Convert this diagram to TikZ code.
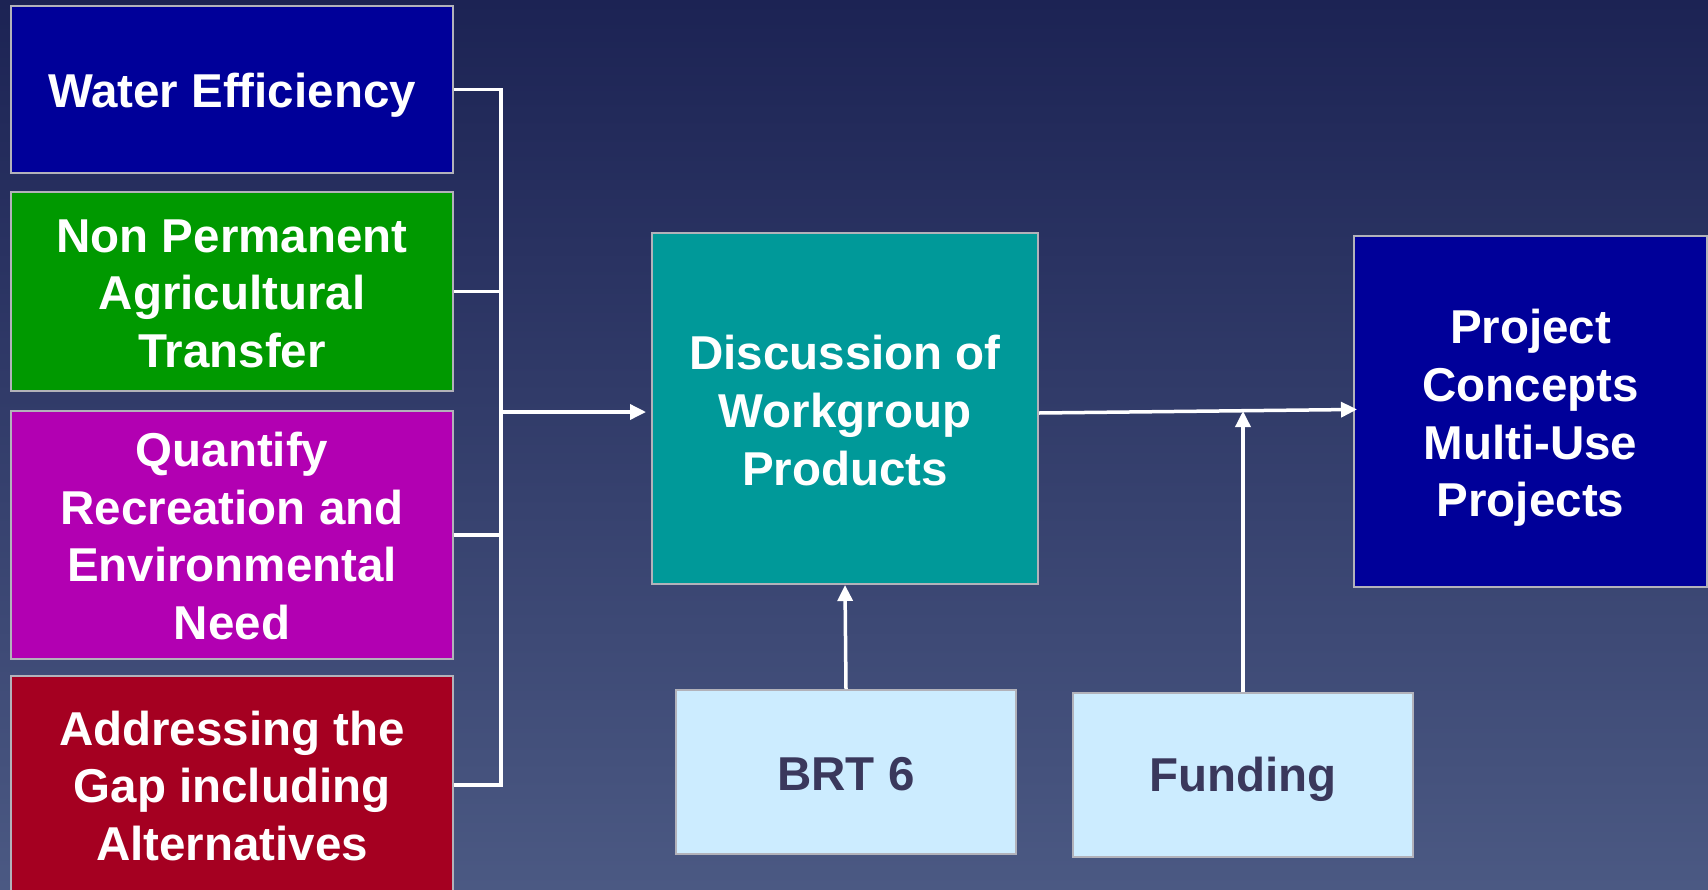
\documentclass[tikz,border=0pt]{standalone}
\usepackage{fontspec}
\setmainfont{Liberation Sans}
\usetikzlibrary{arrows.meta}

\definecolor{bgtop}{RGB}{28,35,84}
\definecolor{bgbot}{RGB}{75,89,131}
\definecolor{boxedge}{RGB}{178,178,186}
\definecolor{navybox}{RGB}{0,0,153}
\definecolor{greenbox}{RGB}{0,153,0}
\definecolor{purplebox}{RGB}{178,0,178}
\definecolor{redbox}{RGB}{165,0,33}
\definecolor{tealbox}{RGB}{0,153,153}
\definecolor{palebox}{RGB}{204,236,255}
\definecolor{paletext}{RGB}{58,56,92}

\begin{document}
\begin{tikzpicture}[x=0.5pt,y=-0.5pt,
  box/.style={draw=boxedge, line width=1pt, align=center, inner sep=0pt,
    font=\bfseries\fontsize{23.75}{28.8}\selectfont, text=white},
  wire/.style={draw=white, line width=1.75pt},
  arr/.style={wire, -{Triangle[length=8pt,width=7.5pt]}}]

  % background
  \useasboundingbox (0,0) rectangle (1708,889);
  \shade[top color=bgtop, bottom color=bgbot] (0,0) rectangle (1708,889);
  \clip (0,0) rectangle (1708,889);

  % left column of topics: frames first, then their texts
  \node[box, fill=navybox, minimum width=221pt, minimum height=83.5pt]
    (we) at (232,89.5) {};
  \node[box, fill=greenbox, minimum width=221pt, minimum height=99.5pt]
    (np) at (232,291.5) {};
  \node[box, fill=purplebox, minimum width=221pt, minimum height=124pt]
    (qr) at (232,535) {};
  \node[box, fill=redbox, minimum width=221pt, minimum height=109pt]
    (ag) at (232,785) {};
  \node[box, draw=none] (weT) at ([yshift=-3pt]we.center) {Water Efficiency};
  \node[box, draw=none] (npT) at ([yshift=-1pt]np.center) {Non Permanent\\Agricultural\\Transfer};
  \node[box, draw=none] (qrT) at ([yshift=-0.5pt]qr.center) {Quantify\\Recreation and\\Environmental\\Need};
  \node[box, draw=none] (agT) at ([yshift=-0.5pt]ag.center) {Addressing the\\Gap including\\Alternatives};

  % central and right boxes
  \node[box, fill=tealbox, minimum width=193pt, minimum height=175.5pt]
    (wg) at (845,408.5) {};
  \node[box, fill=navybox, minimum width=176.5pt, minimum height=175.5pt]
    (pc) at (1530.5,411.5) {};
  \node[box, draw=none] (wgT) at ([yshift=-1pt]wg.center) {Discussion of\\Workgroup\\Products};
  \node[box, draw=none] (pcT) at ([yshift=-3.25pt]pc.center) {Project\\Concepts\\Multi-Use\\Projects};

  % bottom inputs
  \node[box, fill=palebox, minimum width=170pt, minimum height=82pt]
    (brt) at (846,772) {};
  \node[box, fill=palebox, minimum width=170pt, minimum height=82pt]
    (fund) at (1243,775) {};
  \node[box, draw=none, text=paletext] (brtT) at ([yshift=-1pt]brt.center) {BRT 6};
  \node[box, draw=none, text=paletext] (fundT) at ([yshift=-2.2pt]fund.center) {Funding};

  % bus collecting the four topics
  \coordinate (bustop) at (501,0);
  \coordinate (busin) at (501,412);
  \coordinate (join) at (1243,411);
  \draw[wire] (we.east) -- (we.east -| bustop) -- (ag.east -| bustop) -- (ag.east);
  \draw[wire] (np.east) -- (np.east -| bustop);
  \draw[wire] (qr.east) -- (qr.east -| bustop);

  % arrows
  \draw[arr, shorten >=2.5pt] (busin) -- (wg.west |- busin);
  \draw[arr, shorten >=-2pt] ([yshift=-2.25pt]wg.east) -- ([yshift=1pt]pc.west);
  \draw[arr] (brt.north) -- (wg.south);
  \draw[arr] (fund.north) -- (join);
\end{tikzpicture}
\end{document}
